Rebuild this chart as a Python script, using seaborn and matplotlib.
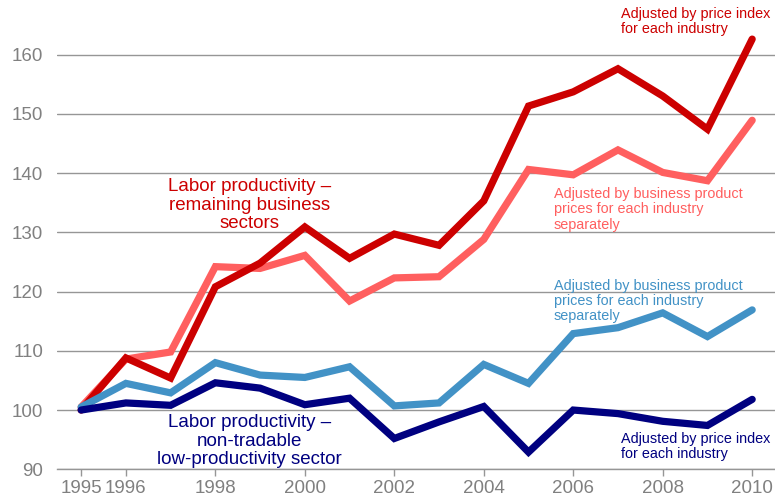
import matplotlib
matplotlib.use("Agg")
import matplotlib.pyplot as plt
import seaborn as sns
import pandas as pd

years = list(range(1995, 2011))

# Labor productivity, remaining business sectors (index, 1995 = 100)
rest_price_index = [100.0, 108.8, 105.4, 120.8, 124.8, 130.9, 125.6, 129.7,
                    127.8, 135.3, 151.3, 153.7, 157.6, 153.0, 147.4, 162.6]
rest_business_prices = [100.5, 108.6, 109.8, 124.2, 123.9, 126.1, 118.4, 122.3,
                        122.5, 128.8, 140.6, 139.7, 143.9, 140.1, 138.7, 148.9]

# Labor productivity, non-tradable low-productivity sector
low_business_prices = [100.5, 104.5, 102.9, 108.0, 105.9, 105.5, 107.3, 100.7,
                       101.2, 107.7, 104.5, 112.9, 113.9, 116.4, 112.4, 116.9]
low_price_index = [100.0, 101.2, 100.8, 104.6, 103.7, 100.9, 102.0, 95.2,
                   98.0, 100.6, 92.9, 100.0, 99.4, 98.1, 97.4, 101.8]

x_ticks = [1995, 1996, 1998, 2000, 2002, 2004, 2006, 2008, 2010]
y_ticks = [90, 100, 110, 120, 130, 140, 150, 160]

series = {
    "rest_price_index": rest_price_index,
    "rest_business_prices": rest_business_prices,
    "low_business_prices": low_business_prices,
    "low_price_index": low_price_index,
}
palette = {
    "rest_business_prices": "#FF5F5F",
    "rest_price_index": "#CC0000",
    "low_business_prices": "#4292C6",
    "low_price_index": "#000080",
}
order = ["rest_business_prices", "rest_price_index", "low_business_prices", "low_price_index"]

df = pd.DataFrame(
    [(y, name, v) for name, vals in series.items() for y, v in zip(years, vals)],
    columns=["year", "series", "value"],
)

sns.set_style("white")
plt.rcParams["font.family"] = ["Liberation Sans", "DejaVu Sans"]

fig = plt.figure(figsize=(7.75, 5.04), dpi=100)
ax = fig.add_axes([57 / 775, (504 - 469.3) / 504, 1 - 57 / 775, 469.3 / 504])

for name in order:
    sns.lineplot(data=df[df["series"] == name], x="year", y="value",
                 color=palette[name], linewidth=5.2, ax=ax, legend=False,
                 solid_joinstyle="miter", zorder=3)

ax.set_xlim(1994.46, 2010.51)
ax.set_ylim(90, 169.2)
ax.set_xticks(x_ticks)
ax.set_xticklabels([str(t) for t in x_ticks])
ax.set_yticks(y_ticks)
ax.set_xlabel("")
ax.set_ylabel("")

ax.grid(axis="y", color="#969696", linewidth=1.0)
ax.grid(axis="x", visible=False)
for side in ["top", "right", "left"]:
    ax.spines[side].set_visible(False)
ax.spines["bottom"].set_color("#969696")
ax.spines["bottom"].set_linewidth(1.0)
ax.tick_params(axis="x", colors="#969696", labelsize=13.5, length=5,
               width=1.0, direction="out", bottom=True, pad=3, labelcolor="#808080")
ax.tick_params(axis="y", labelcolor="#808080", labelsize=13.5, length=0, pad=10)

big = dict(fontsize=13.5, ha="center", va="center", multialignment="center",
           linespacing=1.1)
ax.text(1998.76, 134.6, "Labor productivity –\nremaining business\nsectors",
        color="#CC0000", **big)
ax.text(1998.76, 94.75, "Labor productivity –\nnon-tradable\nlow-productivity sector",
        color="#000080", **big)

small = dict(fontsize=10.4, ha="left", va="center", linespacing=1.12)
ax.text(2007.07, 165.6, "Adjusted by price index\nfor each industry",
        color="#CC0000", **small)
ax.text(2005.57, 133.85, "Adjusted by business product\nprices for each industry\nseparately",
        color="#FF5F5F", **small)
ax.text(2005.57, 118.4, "Adjusted by business product\nprices for each industry\nseparately",
        color="#4292C6", **small)
ax.text(2007.07, 93.9, "Adjusted by price index\nfor each industry",
        color="#000080", **small)

fig.savefig("out.png", dpi=100)
